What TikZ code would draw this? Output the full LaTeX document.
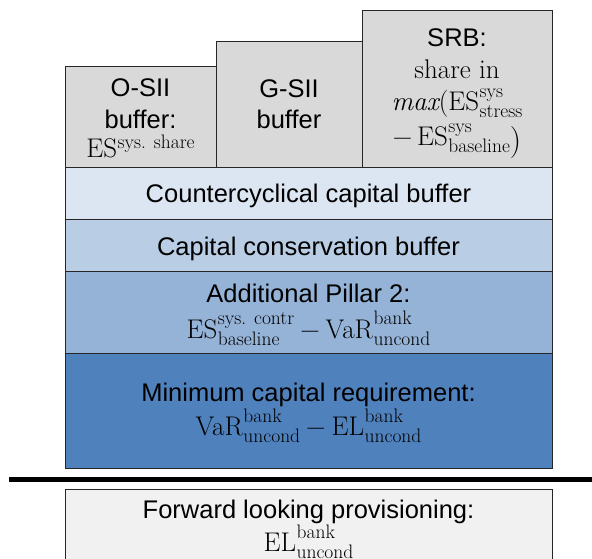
\documentclass[tikz,border=0pt]{standalone}
\usepackage[no-math]{fontspec}
\setmainfont{Liberation Sans}
\newfontfamily\serifLM{Latin Modern Roman}
\newcommand\bigt{\serifLM\fontsize{27}{30}\selectfont}
\newcommand\smt{\serifLM\fontsize{19.5}{20}\selectfont}
\newcommand\supsub[3]{{\bigt #1}\kern0.5pt\setbox0=\hbox{\smt #2}\setbox2=\hbox{\smt #3}%
  \ifdim\wd0>\wd2 \dimen0=\wd0 \else \dimen0=\wd2 \fi
  \hbox to\dimen0{\rlap{\raise13.5pt\copy0}\lower7pt\copy2\hss}}
\newcommand\supO[2]{{\bigt #1}\kern0.5pt\raise8.5pt\hbox{\smt #2}}
\newcommand\mns{\hspace{6pt}{\bigt\char"2212}\hspace{6pt}}
\definecolor{greybox}{HTML}{D9D9D9}
\definecolor{ccybcol}{HTML}{DCE6F2}
\definecolor{ccbcol}{HTML}{B9CDE5}
\definecolor{ptwocol}{HTML}{95B3D7}
\definecolor{mcrcol}{HTML}{4F81BD}
\definecolor{flpcol}{HTML}{F1F1F1}
\definecolor{edgecol}{HTML}{262626}
\tikzset{
  layerbox/.style={draw=edgecol, line width=0.9pt, inner sep=0pt, outer sep=0pt, anchor=north west},
  lbl/.style={inner sep=0pt, outer sep=0pt, anchor=base, font=\fontsize{25.5}{30}\selectfont},
}
\begin{document}
\begin{tikzpicture}[x=1pt,y=-1pt]
\useasboundingbox (0,0) rectangle (592,558);
\clip (0,0) rectangle (592,558);
% boxes
\node[layerbox, fill=greybox, minimum width=151pt, minimum height=101pt] (osii) at (65,66) {};
\node[layerbox, fill=greybox, minimum width=146pt, minimum height=126pt] (gsii) at (216,41) {};
\node[layerbox, fill=greybox, minimum width=190pt, minimum height=157pt] (srb) at (362,10) {};
\node[layerbox, fill=ccybcol, minimum width=487pt, minimum height=52pt] (ccyb) at (65,167) {};
\node[layerbox, fill=ccbcol, minimum width=487pt, minimum height=52pt] (ccb) at (65,219) {};
\node[layerbox, fill=ptwocol, minimum width=487pt, minimum height=82pt] (ptwo) at (65,271) {};
\node[layerbox, fill=mcrcol, minimum width=487pt, minimum height=115pt] (mcr) at (65,353) {};
\node[layerbox, fill=flpcol, minimum width=487pt, minimum height=100pt] (flp) at (65,489.5) {};
% thick separator
\coordinate (sepL) at (9,479.5);
\coordinate (sepR) at (600,479.5);
\draw[line width=5.5pt, black] (sepL) -- (sepR);
% O-SII
\node[lbl] (osiiA) at (140.5,96.7) {O-SII};
\node[lbl] (osiiB) at (140.5,128.3) {buffer:};
\node[lbl] (osiiC) at (140.5,157) {\supO{ES}{sys. share}};
% G-SII
\node[lbl] (gsiiA) at (289,97.7) {G-SII};
\node[lbl] (gsiiB) at (289,128) {buffer};
% SRB
\node[lbl] (srbA) at (457,46.7) {SRB:};
\node[lbl] (srbB) at (457,78.3) {\bigt share in};
\node[lbl] (srbC) at (457,110.5) {{\bigt\itshape max}{\bigt(}\supsub{ES}{sys}{stress}};
\node[lbl] (srbD) at (457,145.5) {{\bigt\char"2212}\hspace{5pt}\supsub{ES}{sys}{baseline}\lower5pt\hbox{\serifLM\fontsize{32}{32}\selectfont)}};
% layers
\node[lbl] (ccybT) at (308.5,202.7) {Countercyclical capital buffer};
\node[lbl] (ccbT) at (308.5,255) {Capital conservation buffer};
\node[lbl] (ptwoA) at (308.5,302.7) {Additional Pillar 2:};
\node[lbl] (ptwoB) at (308.5,338.3) {\supsub{ES}{sys. contr}{baseline}\mns\supsub{VaR}{bank}{uncond}};
\node[lbl] (mcrA) at (308.5,401.7) {Minimum capital requirement:};
\node[lbl] (mcrB) at (308.5,435.7) {\supsub{VaR}{bank}{uncond}\mns\supsub{EL}{bank}{uncond}};
\node[lbl] (flpA) at (308.5,518.3) {Forward looking provisioning:};
\node[lbl] (flpB) at (308.5,551.7) {\supsub{EL}{bank}{uncond}};
\end{tikzpicture}
\end{document}
